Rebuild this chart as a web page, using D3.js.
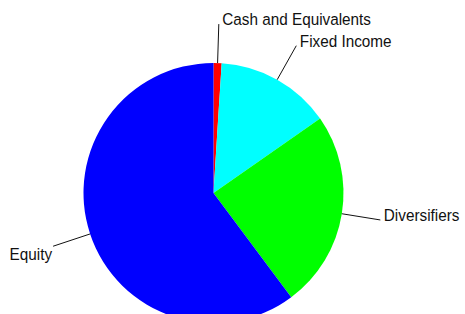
<!DOCTYPE html>
<html>
<head>
<meta charset="utf-8">
<script src="https://cdn.jsdelivr.net/npm/d3@7"></script>
<style>
  body { margin: 0; background: #fff; }
  svg { display: block; }
  .label { font-family: "Liberation Sans", Arial, sans-serif; font-size: 17px; fill: #111; }
  .leader { stroke: #111; stroke-width: 1; fill: none; }
</style>
</head>
<body>
<div id="chart"></div>
<script>
const categories = ["Cash and Equivalents", "Fixed Income", "Diversifiers", "Equity"];
const values = [1.0, 14.3, 24.5, 60.2];
const colors = ["#ff0000", "#00ffff", "#00ff00", "#0000ff"];

const width = 465, height = 314;
const cx = 213.5, cy = 193;
const radius = 130, labelRadius = 169;

const data = categories.map((name, i) => ({ name, value: values[i], color: colors[i] }));

const svg = d3.select("#chart").append("svg")
  .attr("width", width)
  .attr("height", height);

const g = svg.append("g").attr("transform", `translate(${cx},${cy})`);

const pie = d3.pie().sort(null).value((d) => d.value);
const arcs = pie(data);

const arc = d3.arc().innerRadius(0).outerRadius(radius);
const edge = d3.arc().innerRadius(radius).outerRadius(radius);
const outer = d3.arc().innerRadius(labelRadius).outerRadius(labelRadius);

g.selectAll("path.slice")
  .data(arcs)
  .join("path")
  .attr("class", "slice")
  .attr("d", arc)
  .attr("fill", (d) => d.data.color);

g.selectAll("line.leader")
  .data(arcs)
  .join("line")
  .attr("class", "leader")
  .attr("x1", (d) => edge.centroid(d)[0])
  .attr("y1", (d) => edge.centroid(d)[1])
  .attr("x2", (d) => outer.centroid(d)[0])
  .attr("y2", (d) => outer.centroid(d)[1]);

const midAngle = (d) => (d.startAngle + d.endAngle) / 2;

// labels are a bit condensed in the original
g.selectAll("g.label")
  .data(arcs)
  .join("g")
  .attr("transform", (d) => {
    const [x, y] = outer.centroid(d);
    const right = midAngle(d) < Math.PI;
    const tx = right ? x + 3.5 : x - 1;
    const ty = right ? y + 1 : y + 14;
    return `translate(${tx},${ty}) scale(0.9,1)`;
  })
  .append("text")
  .attr("class", "label")
  .attr("text-anchor", (d) => (midAngle(d) < Math.PI ? "start" : "end"))
  .text((d) => d.data.name);
</script>
</body>
</html>
